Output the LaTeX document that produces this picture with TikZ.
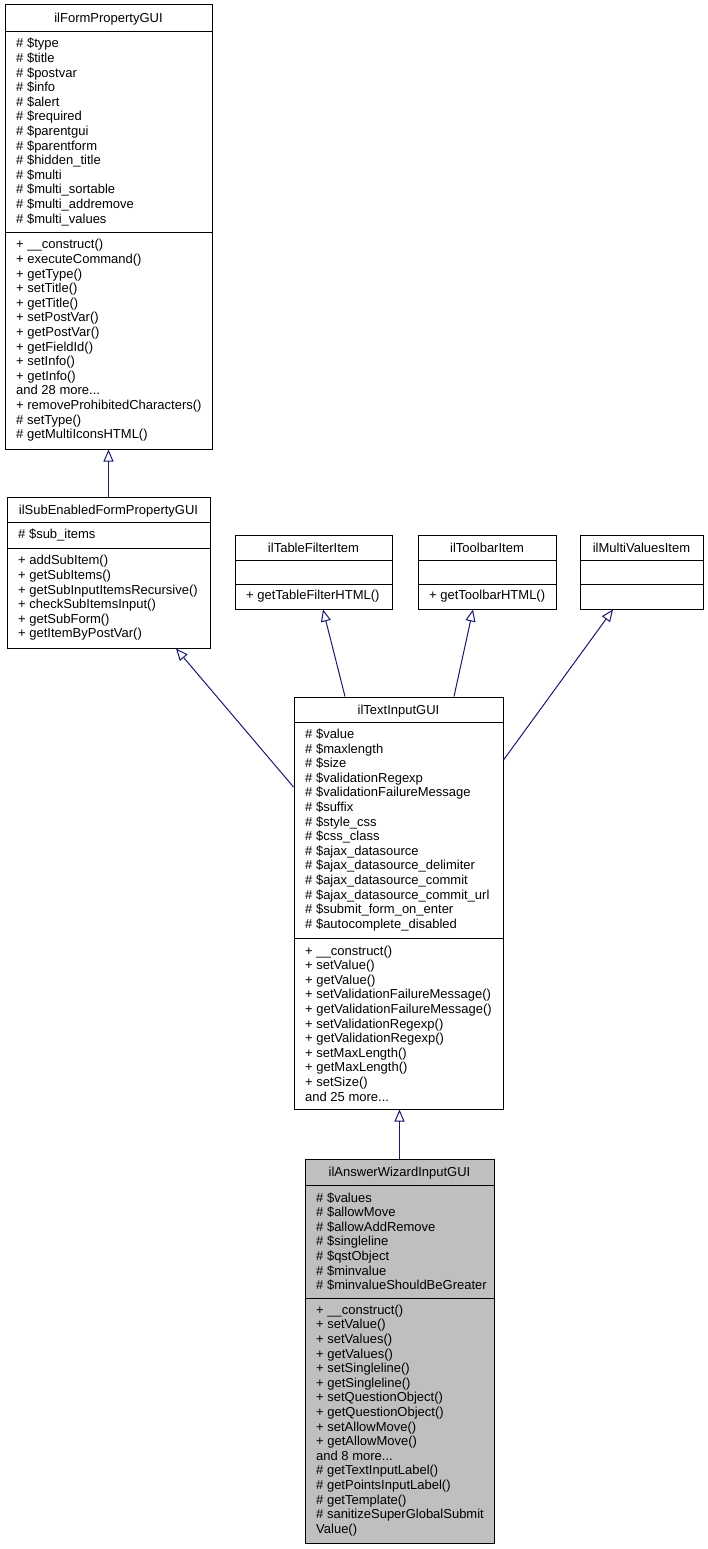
\documentclass[tikz,border=0pt]{standalone}
\usepackage{fontspec}
\setmainfont{Liberation Sans}
\usetikzlibrary{arrows.meta}
\definecolor{edgeblue}{HTML}{191970}
\definecolor{boxgray}{HTML}{BFBFBF}
\begin{document}
\begin{tikzpicture}[x=1pt,y=-1pt,every node/.style={font=\fontsize{13}{14.6}\selectfont,inner sep=0pt},
  cls/.style={draw,line width=1pt,fill=white,rectangle},
  ttl/.style={anchor=base},
  memb/.style={anchor=west,align=left},
  inh/.style={draw=edgeblue,line width=1pt,-{Triangle[open,length=12pt,width=10pt]}}]
  \fill[white] (0,0) rectangle (707,1549);
  \useasboundingbox (0,0) rectangle (707,1549);
  % class boxes
  \node[cls,minimum width=207pt,minimum height=444pt] (fp) at (108.5,227) {};
  \node[cls,minimum width=203pt,minimum height=151pt] (sub) at (108.5,572.5) {};
  \node[cls,minimum width=157pt,minimum height=74pt] (tfi) at (313.5,572) {};
  \node[cls,minimum width=138pt,minimum height=74pt] (tb) at (487,572) {};
  \node[cls,minimum width=123pt,minimum height=74pt] (mv) at (641.5,572) {};
  \node[cls,minimum width=209pt,minimum height=412pt] (ti) at (398.5,903) {};
  \node[cls,fill=boxgray,minimum width=189pt,minimum height=384pt] (aw) at (399.5,1351) {};
  % separators
  \draw[line width=1pt] (fp.west |- 0,32) -- (fp.east |- 0,32) (fp.west |- 0,232) -- (fp.east |- 0,232);
  \draw[line width=1pt] (sub.west |- 0,522) -- (sub.east |- 0,522) (sub.west |- 0,548) -- (sub.east |- 0,548);
  \draw[line width=1pt] (tfi.west |- 0,560) -- (tfi.east |- 0,560) (tfi.west |- 0,584) -- (tfi.east |- 0,584);
  \draw[line width=1pt] (tb.west |- 0,560) -- (tb.east |- 0,560) (tb.west |- 0,584) -- (tb.east |- 0,584);
  \draw[line width=1pt] (mv.west |- 0,560) -- (mv.east |- 0,560) (mv.west |- 0,584) -- (mv.east |- 0,584);
  \draw[line width=1pt] (ti.west |- 0,722) -- (ti.east |- 0,722) (ti.west |- 0,938) -- (ti.east |- 0,938);
  \draw[line width=1pt] (aw.west |- 0,1185) -- (aw.east |- 0,1185) (aw.west |- 0,1298) -- (aw.east |- 0,1298);
  % titles
  \node[ttl] (fpT) at (108.5,22.5) {ilFormPropertyGUI};
  \node[ttl] (subT) at (108.5,514.5) {ilSubEnabledFormPropertyGUI};
  \node[ttl] (tfiT) at (313.5,552.5) {ilTableFilterItem};
  \node[ttl] (tbT) at (487,552.5) {ilToolbarItem};
  \node[ttl] (mvT) at (641.5,552.5) {ilMultiValuesItem};
  \node[ttl] (tiT) at (398.5,714.5) {ilTextInputGUI};
  \node[ttl] (awT) at (399.5,1176.5) {ilAnswerWizardInputGUI};
  % members
  \node[memb] (fpA) at (16,132) {\# \$type\\\# \$title\\\# \$postvar\\\# \$info\\\# \$alert\\\# \$required\\\# \$parentgui\\\# \$parentform\\\# \$hidden\_title\\\# \$multi\\\# \$multi\_sortable\\\# \$multi\_addremove\\\# \$multi\_values};
  \node[memb] (fpM) at (16,340.5) {+ \_\_construct()\\+ executeCommand()\\+ getType()\\+ setTitle()\\+ getTitle()\\+ setPostVar()\\+ getPostVar()\\+ getFieldId()\\+ setInfo()\\+ getInfo()\\and 28 more...\\+ removeProhibitedCharacters()\\\# setType()\\\# getMultiIconsHTML()};
  \node[memb] (subA) at (18,535) {\# \$sub\_items};
  \node[memb] (subM) at (18,598) {+ addSubItem()\\+ getSubItems()\\+ getSubInputItemsRecursive()\\+ checkSubItemsInput()\\+ getSubForm()\\+ getItemByPostVar()};
  \node[memb] (tfiM) at (246,596.5) {+ getTableFilterHTML()};
  \node[memb] (tbM) at (429,596.5) {+ getToolbarHTML()};
  \node[memb] (tiA) at (305,830) {\# \$value\\\# \$maxlength\\\# \$size\\\# \$validationRegexp\\\# \$validationFailureMessage\\\# \$suffix\\\# \$style\_css\\\# \$css\_class\\\# \$ajax\_datasource\\\# \$ajax\_datasource\_delimiter\\\# \$ajax\_datasource\_commit\\\# \$ajax\_datasource\_commit\_url\\\# \$submit\_form\_on\_enter\\\# \$autocomplete\_disabled};
  \node[memb] (tiM) at (305,1023.5) {+ \_\_construct()\\+ setValue()\\+ getValue()\\+ setValidationFailureMessage()\\+ getValidationFailureMessage()\\+ setValidationRegexp()\\+ getValidationRegexp()\\+ setMaxLength()\\+ getMaxLength()\\+ setSize()\\and 25 more...};
  \node[memb] (awA) at (316,1241.5) {\# \$values\\\# \$allowMove\\\# \$allowAddRemove\\\# \$singleline\\\# \$qstObject\\\# \$minvalue\\\# \$minvalueShouldBeGreater};
  \node[memb] (awM) at (316,1420.5) {+ \_\_construct()\\+ setValue()\\+ setValues()\\+ getValues()\\+ setSingleline()\\+ getSingleline()\\+ setQuestionObject()\\+ getQuestionObject()\\+ setAllowMove()\\+ getAllowMove()\\and 8 more...\\\# getTextInputLabel()\\\# getPointsInputLabel()\\\# getTemplate()\\\# sanitizeSuperGlobalSubmit\\Value()};
  % inheritance
  \draw[inh] (sub.north) -- (fp.south);
  \draw[inh] ([yshift=116pt]ti.west) -- ([xshift=67.5pt]sub.south);
  \draw[inh] ([xshift=-53.5pt]ti.north) -- ([xshift=9.5pt]tfi.south);
  \draw[inh] ([xshift=55.5pt]ti.north) -- ([xshift=-14pt]tb.south);
  \draw[inh] ([yshift=143pt]ti.east) -- ([xshift=-28.5pt]mv.south);
  \draw[inh] (aw.north) -- (aw.north |- ti.south);
\end{tikzpicture}
\end{document}
